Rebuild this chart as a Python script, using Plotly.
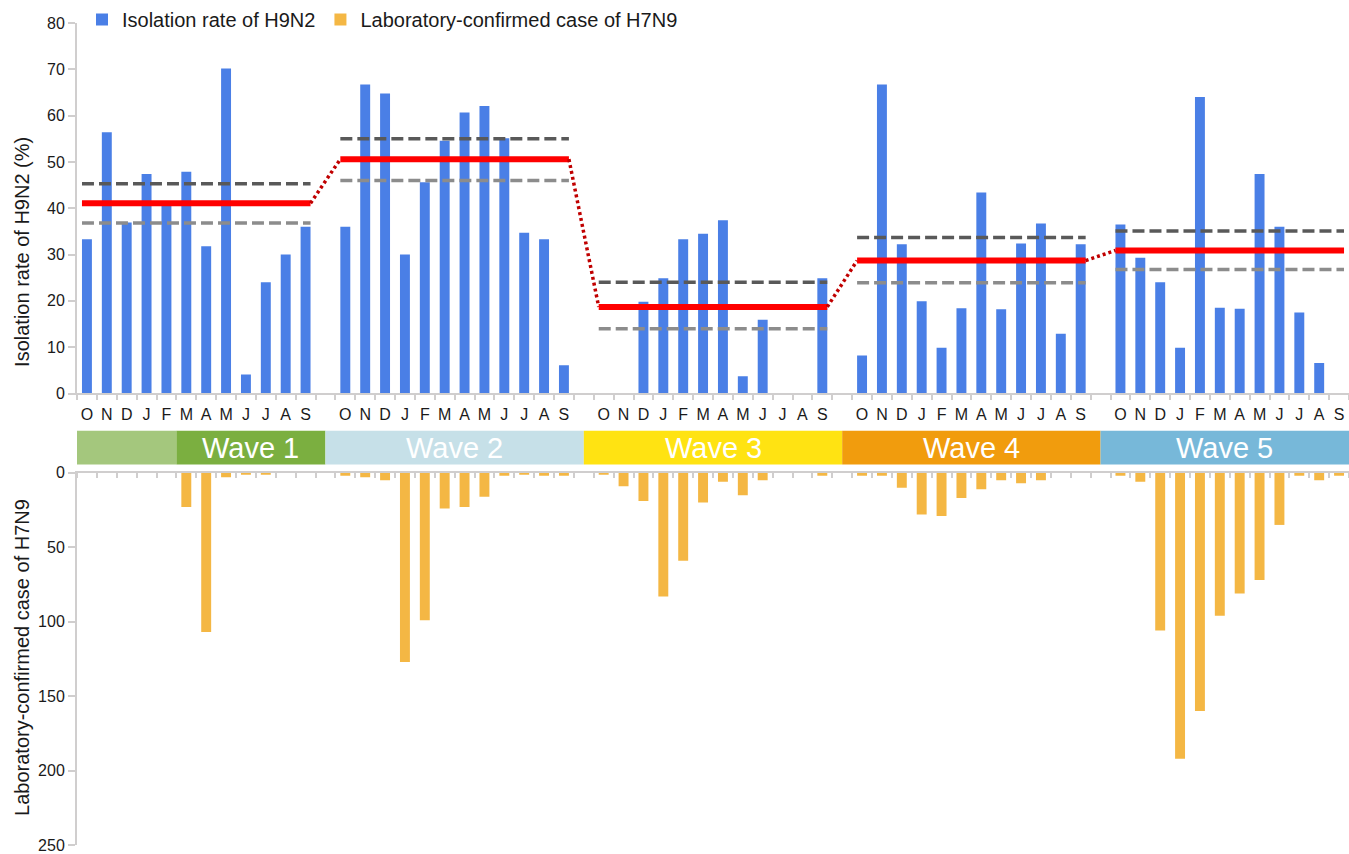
import plotly.graph_objects as go

# ---- data -------------------------------------------------------------
MONTHS = ["O", "N", "D", "J", "F", "M", "A", "M", "J", "J", "A", "S"]
SEASONS = ["2012-13", "2013-14", "2014-15", "2015-16", "2016-17"]

# Monthly isolation rate of H9N2 (%), October..September of each season
h9n2_s1 = [33.3, 56.4, 36.9, 47.4, 40.5, 47.9, 31.8, 70.2, 4.1, 24.0, 30.0, 36.0]
h9n2_s2 = [36.0, 66.7, 64.8, 30.0, 45.6, 54.6, 60.7, 62.1, 55.1, 34.7, 33.3, 6.1]
h9n2_s3 = [None, None, 19.8, 24.9, 33.3, 34.5, 37.4, 3.7, 15.9, None, None, 24.9]
h9n2_s4 = [8.2, 66.7, 32.2, 19.9, 9.9, 18.4, 43.4, 18.2, 32.4, 36.7, 12.9, 32.2]
h9n2_s5 = [36.5, 29.3, 24.0, 9.9, 64.0, 18.5, 18.3, 47.4, 36.0, 17.5, 6.6, None]

# Monthly laboratory-confirmed H7N9 cases
h7n9_s1 = [0, 0, 0, 0, 0, 23, 107, 3, 1, 1, 0, 0]
h7n9_s2 = [2, 3, 5, 127, 99, 24, 23, 16, 2, 1, 2, 2]
h7n9_s3 = [1, 9, 19, 83, 59, 20, 6, 15, 5, 0, 0, 2]
h7n9_s4 = [2, 2, 10, 28, 29, 17, 11, 5, 7, 5, 0, 0]
h7n9_s5 = [2, 6, 106, 192, 160, 96, 81, 72, 35, 2, 5, 2]

# Season-level isolation rate with 95% confidence bounds (%)
season_rate = [41.1, 50.6, 18.7, 28.7, 30.9]
season_ci_low = [36.8, 46.0, 14.0, 23.9, 26.8]
season_ci_high = [45.3, 55.0, 24.0, 33.7, 35.1]

# Epidemic waves: label, season index, month index where the wave begins
WAVE_LABELS = ["", "Wave 1", "Wave 2", "Wave 3", "Wave 4", "Wave 5"]
WAVE_START_SEASON = [0, 0, 1, 2, 3, 4]
WAVE_START_MONTH = [0, 5, 0, 0, 0, 0]

Y1_TICKS = [0, 10, 20, 30, 40, 50, 60, 70, 80]
Y2_TICKS = [0, 50, 100, 150, 200, 250]

h9n2 = [h9n2_s1, h9n2_s2, h9n2_s3, h9n2_s4, h9n2_s5]
h7n9 = [h7n9_s1, h7n9_s2, h7n9_s3, h7n9_s4, h7n9_s5]

# ---- layout helpers ---------------------------------------------------
W, H = 1349, 854
ML, MR, MT, MB = 77, 0, 22, 6
PLOT_H = H - MT - MB
PLOT_W = W - ML - MR
SLOT = 13  # 12 months + 1 empty spacer between seasons
N_SLOTS = SLOT * len(SEASONS) - 1


def pos(season, month):
    return season * SLOT + month


def py(px):
    """pixel row -> paper y"""
    return (H - MB - px) / PLOT_H


def px_x(px):
    """pixel column -> paper x"""
    return (px - ML) / PLOT_W


BLUE = "#4A7FE6"
ORANGE = "#F4B744"
RED = "#FF0000"
DARK_RED = "#C00000"
AXIS = "#D0CECE"
TEXT = "#1a1a1a"
FONT = "Liberation Sans, Arial, sans-serif"
WAVE_COLORS = ["#A4C77D", "#7BAF40", "#C6E0E8", "#FFE312", "#F19C0D", "#77B8D9"]

xs, ys1, ys2 = [], [], []
for s in range(len(SEASONS)):
    for m in range(12):
        xs.append(pos(s, m))
        ys1.append(h9n2[s][m])
        ys2.append(h7n9[s][m])

fig = go.Figure()

fig.add_trace(go.Bar(
    x=xs, y=ys1, width=0.5, marker=dict(color=BLUE, line=dict(width=0)),
    name="Isolation rate of H9N2", xaxis="x", yaxis="y",
))
fig.add_trace(go.Bar(
    x=xs, y=ys2, width=0.5, marker=dict(color=ORANGE, line=dict(width=0)),
    name="Laboratory-confirmed case of H7N9", xaxis="x2", yaxis="y2",
))

# season means, confidence bounds and connectors
for s in range(len(SEASONS)):
    x0 = pos(s, 0) - 0.25
    x1 = pos(s, 11) + 0.25
    fig.add_trace(go.Scatter(
        x=[x0, x1], y=[season_ci_high[s]] * 2, mode="lines",
        line=dict(color="#595959", width=3.5, dash="12px,5px"),
        showlegend=False, hoverinfo="skip", xaxis="x", yaxis="y"))
    fig.add_trace(go.Scatter(
        x=[x0, x1], y=[season_ci_low[s]] * 2, mode="lines",
        line=dict(color="#8C8C8C", width=3.5, dash="12px,5px"),
        showlegend=False, hoverinfo="skip", xaxis="x", yaxis="y"))
    fig.add_trace(go.Scatter(
        x=[x0, x1], y=[season_rate[s]] * 2, mode="lines",
        line=dict(color=RED, width=6),
        showlegend=False, hoverinfo="skip", xaxis="x", yaxis="y"))
    if s + 1 < len(SEASONS):
        fig.add_trace(go.Scatter(
            x=[x1, pos(s + 1, 0) - 0.25],
            y=[season_rate[s], season_rate[s + 1]], mode="lines",
            line=dict(color=DARK_RED, width=3.5, dash="3px,3px"),
            showlegend=False, hoverinfo="skip", xaxis="x", yaxis="y"))

# wave band between the two panels
bounds = []
for s, m in zip(WAVE_START_SEASON, WAVE_START_MONTH):
    if s == 0 and m == 0:
        bounds.append(-0.5)
    elif m == 0:
        bounds.append(pos(s, 0) - 1)
    else:
        bounds.append(pos(s, m) - 0.5)
bounds.append(N_SLOTS - 0.5)

band_top, band_bot = py(431.7), py(465.7)
shapes, annotations = [], []
for i, label in enumerate(WAVE_LABELS):
    shapes.append(dict(type="rect", xref="x", yref="paper",
                       x0=bounds[i], x1=bounds[i + 1], y0=band_bot, y1=band_top,
                       fillcolor=WAVE_COLORS[i], line=dict(width=0), layer="below"))
    if label:
        annotations.append(dict(
            x=(bounds[i] + bounds[i + 1]) / 2, y=(band_top + band_bot) / 2,
            xref="x", yref="paper", text=label, showarrow=False,
            font=dict(family=FONT, size=29, color="white"),
            xanchor="center", yanchor="middle"))

annotations.append(dict(
    x=px_x(22), y=py(252), xref="paper", yref="paper",
    text="Isolation rate of H9N2 (%)", textangle=-90, showarrow=False,
    font=dict(family=FONT, size=20, color=TEXT), xanchor="center", yanchor="middle"))
annotations.append(dict(
    x=px_x(22), y=py(660), xref="paper", yref="paper",
    text="Laboratory-confirmed case of H7N9", textangle=-90, showarrow=False,
    font=dict(family=FONT, size=20, color=TEXT), xanchor="center", yanchor="middle"))

boundaries = [i - 0.5 for i in range(N_SLOTS + 1)]
month_labels = MONTHS * len(SEASONS)

fig.update_layout(
    width=W, height=H,
    margin=dict(l=ML, r=MR, t=MT, b=MB, pad=0),
    paper_bgcolor="white", plot_bgcolor="white",
    font=dict(family=FONT, color=TEXT),
    barmode="overlay",
    showlegend=True,
    legend=dict(orientation="h", x=px_x(82), xanchor="left",
                y=py(18), yanchor="middle",
                font=dict(family=FONT, size=20, color=TEXT),
                bgcolor="rgba(0,0,0,0)", itemclick=False, itemdoubleclick=False),
    xaxis=dict(
        domain=[0, 1], range=[-0.5, N_SLOTS - 0.5], anchor="y",
        tickmode="array", tickvals=xs, ticktext=month_labels,
        ticks="", ticklabelstandoff=5,
        tickfont=dict(family=FONT, size=16, color=TEXT),
        minor=dict(tickmode="array", tickvals=boundaries, ticks="outside",
                   ticklen=5, tickwidth=2, tickcolor=AXIS, showgrid=False),
        showline=True, linecolor=AXIS, linewidth=2,
        showgrid=False, zeroline=False, fixedrange=True,
    ),
    xaxis2=dict(
        domain=[0, 1], matches="x", anchor="y2", side="top",
        tickmode="array", tickvals=xs, ticks="", showticklabels=False,
        minor=dict(tickmode="array", tickvals=boundaries, ticks="inside",
                   ticklen=5, tickwidth=2, tickcolor=AXIS, showgrid=False),
        showline=True, linecolor=AXIS, linewidth=2,
        showgrid=False, zeroline=False, fixedrange=True,
    ),
    yaxis=dict(
        domain=[py(394.3), 1], range=[0, 80], anchor="x",
        tickmode="array", tickvals=Y1_TICKS,
        ticks="outside", ticklen=7, tickwidth=2, tickcolor=AXIS,
        tickfont=dict(family=FONT, size=16, color=TEXT),
        showline=True, linecolor=AXIS, linewidth=2,
        showgrid=False, zeroline=False, fixedrange=True,
    ),
    yaxis2=dict(
        domain=[0, py(474)], range=[250, 0], anchor="x2",
        tickmode="array", tickvals=Y2_TICKS,
        ticks="outside", ticklen=7, tickwidth=2, tickcolor=AXIS,
        tickfont=dict(family=FONT, size=16, color=TEXT),
        showline=True, linecolor=AXIS, linewidth=2,
        showgrid=False, zeroline=False, fixedrange=True,
    ),
    shapes=shapes,
    annotations=annotations,
)

fig.write_html("out.html", config=dict(displayModeBar=False))
